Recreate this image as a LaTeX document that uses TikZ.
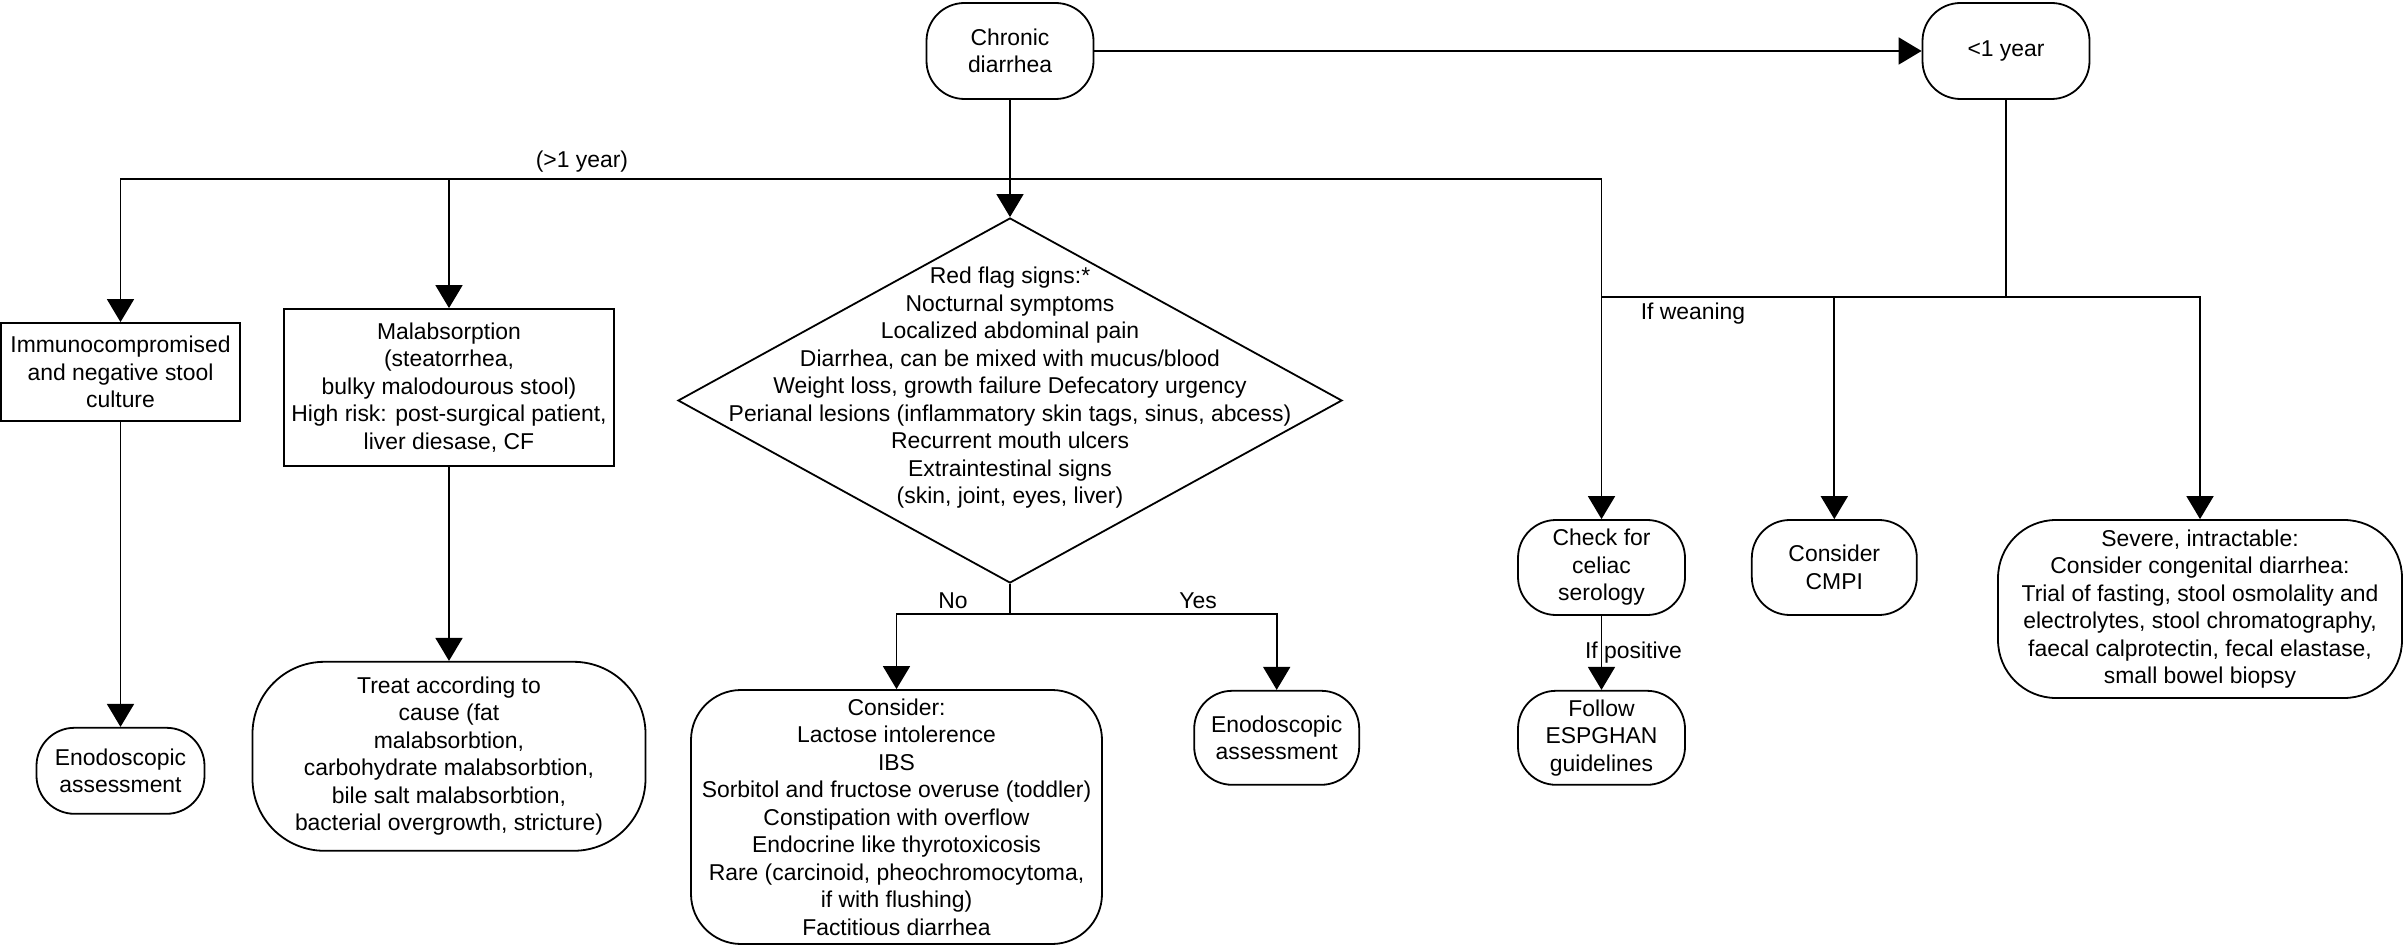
\documentclass[tikz,border=0pt]{standalone}
\usepackage{fontspec}
\setmainfont{Liberation Sans}
\usetikzlibrary{positioning, shapes.geometric, arrows.meta}

\begin{document}
\begin{tikzpicture}[x=0.5pt, y=-0.5pt, line width=0.9pt,
        font=\fontsize{11.45}{13.75}\selectfont,
        >={Triangle[length=11.5pt,width=13.5pt]},
        term/.style={draw, rounded corners=19pt, align=center, inner sep=2pt},
        proc/.style={draw, align=center, inner sep=2pt},
        flag/.style={draw, diamond, inner sep=0pt}]
        \useasboundingbox (0,0) rectangle (2404,946);

        \node[term, minimum width=83.5pt, minimum height=48pt] (chronic) at (1010,51) {Chronic\\diarrhea};
        \node[term, minimum width=83.5pt, minimum height=48pt] (lt_1) at (2006,51) {<1 year};
        \node[proc, minimum width=119.5pt, minimum height=49pt] (immuno) at (120.5,372) {Immunocompromised\\and negative stool\\culture};
        \node[proc, minimum width=165pt, minimum height=78.5pt] (malab) at (449,387.5) {Malabsorption\\(steatorrhea,\\bulky malodourous stool)\\High risk: post-surgical patient,\\liver diesase, CF};
        \node[flag, minimum width=332pt, minimum height=182.5pt] (flag) at (1010,400.5) {};
        \node[align=center] (flag_text) at (1010,388) {Red flag signs:*\\Nocturnal symptoms\\Localized abdominal pain\\Diarrhea, can be mixed with mucus/blood\\Weight loss, growth failure Defecatory urgency\\Perianal lesions (inflammatory skin tags, sinus, abcess)\\Recurrent mouth ulcers\\Extraintestinal signs\\(skin, joint, eyes, liver)};
        \node[term, rounded corners=36pt, minimum width=196.5pt, minimum height=94.5pt] (treat) [below=97pt of malab] {Treat according to\\cause (fat\\malabsorbtion,\\carbohydrate malabsorbtion,\\bile salt malabsorbtion,\\bacterial overgrowth, stricture)};
        \node[term, minimum width=84pt, minimum height=43pt] (endo_1) [below=152.5pt of immuno] {Enodoscopic\\assessment};
        \node[term, rounded corners=25pt, minimum width=205.5pt, minimum height=127pt] (consider) at (896.5,817) {Consider:\\Lactose intolerence\\IBS\\Sorbitol and fructose overuse (toddler)\\Constipation with overflow\\Endocrine like thyrotoxicosis\\Rare (carcinoid, pheochromocytoma,\\if with flushing)\\Factitious diarrhea};
        \node[term, minimum width=83.5pt, minimum height=47.5pt] (celiac) at (1601.5,567.5) {Check for\\celiac\\serology};
        \node[term, minimum width=82.5pt, minimum height=47.5pt] (cmpi) [right=32.5pt of celiac] {Consider\\CMPI};
        \node[term, minimum width=83.5pt, minimum height=47pt] (espghan) [below=37pt of celiac] {Follow\\ESPGHAN\\guidelines};
        \node[term, minimum width=82.5pt, minimum height=47pt] (endo_2) [left=78.5pt of espghan] {Enodoscopic\\assessment};
        \node[term, rounded corners=29pt, minimum width=202pt, minimum height=89pt] (severe) at (2200,609) {Severe, intractable:\\Consider congenital diarrhea:\\Trial of fasting, stool osmolality and\\electrolytes, stool chromatography,\\faecal calprotectin, fecal elastase,\\small bowel biopsy};

        \coordinate (older) at (1010,179);
        \coordinate (younger) at (2006,297);
        \coordinate (split) at (1010,614);

        \node (gt_label) at (582,162) {(>1 year)};
        \node (wean) at (1693,314) {If weaning};
        \node (no) at (953,601) {No};
        \node (yes) at (1198,601) {Yes};

        \path[->]
                (chronic) edge (lt_1)
                    edge (flag)
                (immuno) edge (endo_1)
                (malab) edge (treat)
                (celiac) edge node [right, xshift=-12pt] {If positive} (espghan);
        \draw[->] (older) -| (immuno);
        \draw[->] (older) -| (malab);
        \draw[->] (older) -| (celiac);
        \draw (lt_1) -- (younger);
        \draw (younger) -- (younger -| celiac);
        \draw[->] (younger) -| (cmpi);
        \draw[->] (younger) -| (severe);
        \draw (flag) -- (split);
        \draw[->] (split) -| (consider);
        \draw[->] (split) -| (endo_2);
\end{tikzpicture}
\end{document}
